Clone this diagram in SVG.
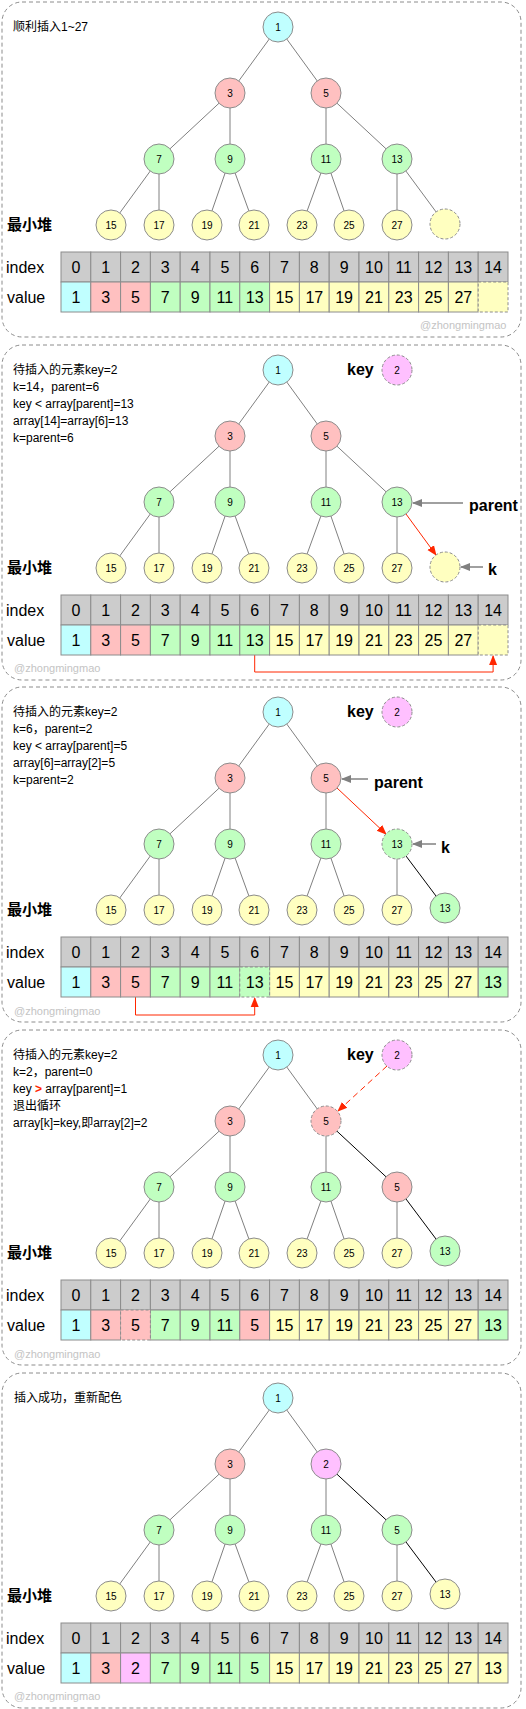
<svg xmlns="http://www.w3.org/2000/svg" width="526" height="1709" viewBox="0 0 526 1709">
<style>
text{font-family:"Liberation Sans","Noto Sans CJK SC",sans-serif;fill:#000}
.frame{fill:none;stroke:#8c8c8c;stroke-width:1;stroke-dasharray:4 3}
.n circle{stroke:#8c8c8c;stroke-width:1}
.n text{font-size:10px;text-anchor:middle}
.dash circle{stroke-dasharray:3 2}
.c{fill:#c0ffff}.r{fill:#ffc0c0}.g{fill:#c0ffc0}.y{fill:#ffffc0}.p{fill:#ffc0ff}.gr{fill:#cccccc}
.e{stroke:#808080;stroke-width:1;fill:none}
.eb{stroke:#000;stroke-width:1;fill:none}
.red{stroke:#ff2600;stroke-width:1;fill:none}
.gar{stroke:#808080;stroke-width:1.5;fill:none}
.cell rect{stroke:#8c8c8c;stroke-width:1}
.cell text{font-size:16px;text-anchor:middle}
.lbl{font-size:16px}
.note{font-size:12px}
.title{font-size:15px;font-weight:bold}
.bold{font-size:16px;font-weight:bold}
.wm{font-size:11px;fill:#c4c4c4}
</style>
<defs>
<marker id="ag" viewBox="0 0 10 10" refX="9" refY="5" markerWidth="10" markerHeight="10" markerUnits="userSpaceOnUse" orient="auto"><path d="M0,1 L10,5 L0,9 z" fill="#808080"/></marker>
<marker id="ar" viewBox="0 0 10 10" refX="9" refY="5" markerWidth="10" markerHeight="10" markerUnits="userSpaceOnUse" orient="auto"><path d="M0,1 L10,5 L0,9 z" fill="#ff2600"/></marker>
</defs>

<!-- ================= PANEL 1 ================= -->
<g id="panel1">
<rect class="frame" x="2" y="2" width="519" height="335" rx="20"/>
<text class="note" x="13" y="31">顺利插入1~27</text>
<text class="title" x="7" y="230">最小堆</text>
<g id="p1-connectors">
<line class="e" x1="278" y1="27" x2="230" y2="93"/><line class="e" x1="278" y1="27" x2="326" y2="93"/>
<line class="e" x1="230" y1="93" x2="159" y2="159"/><line class="e" x1="230" y1="93" x2="230" y2="159"/>
<line class="e" x1="326" y1="93" x2="326" y2="159"/><line class="e" x1="326" y1="93" x2="397" y2="159"/>
<line class="e" x1="159" y1="159" x2="111" y2="225"/><line class="e" x1="159" y1="159" x2="159" y2="225"/>
<line class="e" x1="230" y1="159" x2="207" y2="225"/><line class="e" x1="230" y1="159" x2="254" y2="225"/>
<line class="e" x1="326" y1="159" x2="302" y2="225"/><line class="e" x1="326" y1="159" x2="349" y2="225"/>
<line class="e" x1="397" y1="159" x2="397" y2="225"/><line class="e" x1="397" y1="159" x2="445" y2="224"/>
</g>
<g id="p1-n1" class="n"><circle class="c" cx="278" cy="27" r="15"/><text x="278" y="30.5">1</text></g>
<g id="p1-n3" class="n"><circle class="r" cx="230" cy="93" r="15"/><text x="230" y="96.5">3</text></g>
<g id="p1-n5" class="n"><circle class="r" cx="326" cy="93" r="15"/><text x="326" y="96.5">5</text></g>
<g id="p1-n7" class="n"><circle class="g" cx="159" cy="159" r="15"/><text x="159" y="162.5">7</text></g>
<g id="p1-n9" class="n"><circle class="g" cx="230" cy="159" r="15"/><text x="230" y="162.5">9</text></g>
<g id="p1-n11" class="n"><circle class="g" cx="326" cy="159" r="15"/><text x="326" y="162.5">11</text></g>
<g id="p1-n13" class="n"><circle class="g" cx="397" cy="159" r="15"/><text x="397" y="162.5">13</text></g>
<g id="p1-n15" class="n"><circle class="y" cx="111" cy="225" r="15"/><text x="111" y="228.5">15</text></g>
<g id="p1-n17" class="n"><circle class="y" cx="159" cy="225" r="15"/><text x="159" y="228.5">17</text></g>
<g id="p1-n19" class="n"><circle class="y" cx="207" cy="225" r="15"/><text x="207" y="228.5">19</text></g>
<g id="p1-n21" class="n"><circle class="y" cx="254" cy="225" r="15"/><text x="254" y="228.5">21</text></g>
<g id="p1-n23" class="n"><circle class="y" cx="302" cy="225" r="15"/><text x="302" y="228.5">23</text></g>
<g id="p1-n25" class="n"><circle class="y" cx="349" cy="225" r="15"/><text x="349" y="228.5">25</text></g>
<g id="p1-n27" class="n"><circle class="y" cx="397" cy="225" r="15"/><text x="397" y="228.5">27</text></g>
<g id="p1-nempty" class="n dash"><circle class="y" cx="445" cy="224" r="15"/></g>
<text class="lbl" x="6" y="273">index</text>
<text class="lbl" x="7" y="303">value</text>
<g id="p1-table" class="cell">
<rect class="gr" x="61" y="252" width="29.8" height="30"/><text x="75.9" y="273">0</text>
<rect class="gr" x="90.8" y="252" width="29.8" height="30"/><text x="105.7" y="273">1</text>
<rect class="gr" x="120.6" y="252" width="29.8" height="30"/><text x="135.5" y="273">2</text>
<rect class="gr" x="150.4" y="252" width="29.8" height="30"/><text x="165.3" y="273">3</text>
<rect class="gr" x="180.2" y="252" width="29.8" height="30"/><text x="195.1" y="273">4</text>
<rect class="gr" x="210" y="252" width="29.8" height="30"/><text x="224.9" y="273">5</text>
<rect class="gr" x="239.8" y="252" width="29.8" height="30"/><text x="254.7" y="273">6</text>
<rect class="gr" x="269.6" y="252" width="29.8" height="30"/><text x="284.5" y="273">7</text>
<rect class="gr" x="299.4" y="252" width="29.8" height="30"/><text x="314.3" y="273">8</text>
<rect class="gr" x="329.2" y="252" width="29.8" height="30"/><text x="344.1" y="273">9</text>
<rect class="gr" x="359" y="252" width="29.8" height="30"/><text x="373.9" y="273">10</text>
<rect class="gr" x="388.8" y="252" width="29.8" height="30"/><text x="403.7" y="273">11</text>
<rect class="gr" x="418.6" y="252" width="29.8" height="30"/><text x="433.5" y="273">12</text>
<rect class="gr" x="448.4" y="252" width="29.8" height="30"/><text x="463.3" y="273">13</text>
<rect class="gr" x="478.2" y="252" width="29.8" height="30"/><text x="493.1" y="273">14</text>
<rect class="c" x="61" y="282" width="29.8" height="30"/><text x="75.9" y="303">1</text>
<rect class="r" x="90.8" y="282" width="29.8" height="30"/><text x="105.7" y="303">3</text>
<rect class="r" x="120.6" y="282" width="29.8" height="30"/><text x="135.5" y="303">5</text>
<rect class="g" x="150.4" y="282" width="29.8" height="30"/><text x="165.3" y="303">7</text>
<rect class="g" x="180.2" y="282" width="29.8" height="30"/><text x="195.1" y="303">9</text>
<rect class="g" x="210" y="282" width="29.8" height="30"/><text x="224.9" y="303">11</text>
<rect class="g" x="239.8" y="282" width="29.8" height="30"/><text x="254.7" y="303">13</text>
<rect class="y" x="269.6" y="282" width="29.8" height="30"/><text x="284.5" y="303">15</text>
<rect class="y" x="299.4" y="282" width="29.8" height="30"/><text x="314.3" y="303">17</text>
<rect class="y" x="329.2" y="282" width="29.8" height="30"/><text x="344.1" y="303">19</text>
<rect class="y" x="359" y="282" width="29.8" height="30"/><text x="373.9" y="303">21</text>
<rect class="y" x="388.8" y="282" width="29.8" height="30"/><text x="403.7" y="303">23</text>
<rect class="y" x="418.6" y="282" width="29.8" height="30"/><text x="433.5" y="303">25</text>
<rect class="y" x="448.4" y="282" width="29.8" height="30"/><text x="463.3" y="303">27</text>
<rect class="y" x="478.2" y="282" width="29.8" height="30" style="stroke-dasharray:3 2"/>
</g>
<text class="wm" x="420" y="329">@zhongmingmao</text>
</g>

<!-- ================= PANEL 2 ================= -->
<g id="panel2" transform="translate(0,343)">
<rect class="frame" x="2" y="2" width="519" height="335" rx="20"/>
<text class="note" x="13" y="31">待插入的元素key=2</text>
<text class="note" x="13" y="48">k=14，parent=6</text>
<text class="note" x="13" y="65">key &lt; array[parent]=13</text>
<text class="note" x="13" y="82">array[14]=array[6]=13</text>
<text class="note" x="13" y="99">k=parent=6</text>
<text class="title" x="7" y="230">最小堆</text>
<text class="bold" x="347" y="32">key</text>
<text class="bold" x="469" y="168">parent</text>
<text class="bold" x="488" y="232">k</text>
<g id="p2-connectors">
<line class="e" x1="278" y1="27" x2="230" y2="93"/><line class="e" x1="278" y1="27" x2="326" y2="93"/>
<line class="e" x1="230" y1="93" x2="159" y2="159"/><line class="e" x1="230" y1="93" x2="230" y2="159"/>
<line class="e" x1="326" y1="93" x2="326" y2="159"/><line class="e" x1="326" y1="93" x2="397" y2="159"/>
<line class="e" x1="159" y1="159" x2="111" y2="225"/><line class="e" x1="159" y1="159" x2="159" y2="225"/>
<line class="e" x1="230" y1="159" x2="207" y2="225"/><line class="e" x1="230" y1="159" x2="254" y2="225"/>
<line class="e" x1="326" y1="159" x2="302" y2="225"/><line class="e" x1="326" y1="159" x2="349" y2="225"/>
<line class="e" x1="397" y1="159" x2="397" y2="225"/>
<line class="red" x1="406" y1="171" x2="436" y2="212" marker-end="url(#ar)"/>
<line class="gar" x1="463" y1="160" x2="413" y2="160" marker-end="url(#ag)"/>
<line class="gar" x1="483" y1="224" x2="461" y2="224" marker-end="url(#ag)"/>
<polyline class="red" points="254.7,312 254.7,329 493.1,329 493.1,313" marker-end="url(#ar)"/>
</g>
<g id="p2-key" class="n dash"><circle class="p" cx="397" cy="27" r="15"/><text x="397" y="30.5">2</text></g>
<g id="p2-n1" class="n"><circle class="c" cx="278" cy="27" r="15"/><text x="278" y="30.5">1</text></g>
<g id="p2-n3" class="n"><circle class="r" cx="230" cy="93" r="15"/><text x="230" y="96.5">3</text></g>
<g id="p2-n5" class="n"><circle class="r" cx="326" cy="93" r="15"/><text x="326" y="96.5">5</text></g>
<g id="p2-n7" class="n"><circle class="g" cx="159" cy="159" r="15"/><text x="159" y="162.5">7</text></g>
<g id="p2-n9" class="n"><circle class="g" cx="230" cy="159" r="15"/><text x="230" y="162.5">9</text></g>
<g id="p2-n11" class="n"><circle class="g" cx="326" cy="159" r="15"/><text x="326" y="162.5">11</text></g>
<g id="p2-n13" class="n"><circle class="g" cx="397" cy="159" r="15"/><text x="397" y="162.5">13</text></g>
<g id="p2-n15" class="n"><circle class="y" cx="111" cy="225" r="15"/><text x="111" y="228.5">15</text></g>
<g id="p2-n17" class="n"><circle class="y" cx="159" cy="225" r="15"/><text x="159" y="228.5">17</text></g>
<g id="p2-n19" class="n"><circle class="y" cx="207" cy="225" r="15"/><text x="207" y="228.5">19</text></g>
<g id="p2-n21" class="n"><circle class="y" cx="254" cy="225" r="15"/><text x="254" y="228.5">21</text></g>
<g id="p2-n23" class="n"><circle class="y" cx="302" cy="225" r="15"/><text x="302" y="228.5">23</text></g>
<g id="p2-n25" class="n"><circle class="y" cx="349" cy="225" r="15"/><text x="349" y="228.5">25</text></g>
<g id="p2-n27" class="n"><circle class="y" cx="397" cy="225" r="15"/><text x="397" y="228.5">27</text></g>
<g id="p2-nempty" class="n dash"><circle class="y" cx="445" cy="224" r="15"/></g>
<text class="lbl" x="6" y="273">index</text>
<text class="lbl" x="7" y="303">value</text>
<g id="p2-table" class="cell">
<rect class="gr" x="61" y="252" width="29.8" height="30"/><text x="75.9" y="273">0</text>
<rect class="gr" x="90.8" y="252" width="29.8" height="30"/><text x="105.7" y="273">1</text>
<rect class="gr" x="120.6" y="252" width="29.8" height="30"/><text x="135.5" y="273">2</text>
<rect class="gr" x="150.4" y="252" width="29.8" height="30"/><text x="165.3" y="273">3</text>
<rect class="gr" x="180.2" y="252" width="29.8" height="30"/><text x="195.1" y="273">4</text>
<rect class="gr" x="210" y="252" width="29.8" height="30"/><text x="224.9" y="273">5</text>
<rect class="gr" x="239.8" y="252" width="29.8" height="30"/><text x="254.7" y="273">6</text>
<rect class="gr" x="269.6" y="252" width="29.8" height="30"/><text x="284.5" y="273">7</text>
<rect class="gr" x="299.4" y="252" width="29.8" height="30"/><text x="314.3" y="273">8</text>
<rect class="gr" x="329.2" y="252" width="29.8" height="30"/><text x="344.1" y="273">9</text>
<rect class="gr" x="359" y="252" width="29.8" height="30"/><text x="373.9" y="273">10</text>
<rect class="gr" x="388.8" y="252" width="29.8" height="30"/><text x="403.7" y="273">11</text>
<rect class="gr" x="418.6" y="252" width="29.8" height="30"/><text x="433.5" y="273">12</text>
<rect class="gr" x="448.4" y="252" width="29.8" height="30"/><text x="463.3" y="273">13</text>
<rect class="gr" x="478.2" y="252" width="29.8" height="30"/><text x="493.1" y="273">14</text>
<rect class="c" x="61" y="282" width="29.8" height="30"/><text x="75.9" y="303">1</text>
<rect class="r" x="90.8" y="282" width="29.8" height="30"/><text x="105.7" y="303">3</text>
<rect class="r" x="120.6" y="282" width="29.8" height="30"/><text x="135.5" y="303">5</text>
<rect class="g" x="150.4" y="282" width="29.8" height="30"/><text x="165.3" y="303">7</text>
<rect class="g" x="180.2" y="282" width="29.8" height="30"/><text x="195.1" y="303">9</text>
<rect class="g" x="210" y="282" width="29.8" height="30"/><text x="224.9" y="303">11</text>
<rect class="g" x="239.8" y="282" width="29.8" height="30"/><text x="254.7" y="303">13</text>
<rect class="y" x="269.6" y="282" width="29.8" height="30"/><text x="284.5" y="303">15</text>
<rect class="y" x="299.4" y="282" width="29.8" height="30"/><text x="314.3" y="303">17</text>
<rect class="y" x="329.2" y="282" width="29.8" height="30"/><text x="344.1" y="303">19</text>
<rect class="y" x="359" y="282" width="29.8" height="30"/><text x="373.9" y="303">21</text>
<rect class="y" x="388.8" y="282" width="29.8" height="30"/><text x="403.7" y="303">23</text>
<rect class="y" x="418.6" y="282" width="29.8" height="30"/><text x="433.5" y="303">25</text>
<rect class="y" x="448.4" y="282" width="29.8" height="30"/><text x="463.3" y="303">27</text>
<rect class="y" x="478.2" y="282" width="29.8" height="30" style="stroke-dasharray:3 2"/>
</g>
<text class="wm" x="14" y="329">@zhongmingmao</text>
</g>

<!-- ================= PANEL 3 ================= -->
<g id="panel3" transform="translate(0,685)">
<rect class="frame" x="2" y="2" width="519" height="335" rx="20"/>
<text class="note" x="13" y="31">待插入的元素key=2</text>
<text class="note" x="13" y="48">k=6，parent=2</text>
<text class="note" x="13" y="65">key &lt; array[parent]=5</text>
<text class="note" x="13" y="82">array[6]=array[2]=5</text>
<text class="note" x="13" y="99">k=parent=2</text>
<text class="title" x="7" y="230">最小堆</text>
<text class="bold" x="347" y="32">key</text>
<text class="bold" x="374" y="103">parent</text>
<text class="bold" x="441" y="168">k</text>
<g id="p3-connectors">
<line class="e" x1="278" y1="27" x2="230" y2="93"/><line class="e" x1="278" y1="27" x2="326" y2="93"/>
<line class="e" x1="230" y1="93" x2="159" y2="159"/><line class="e" x1="230" y1="93" x2="230" y2="159"/>
<line class="e" x1="326" y1="93" x2="326" y2="159"/>
<line class="e" x1="159" y1="159" x2="111" y2="225"/><line class="e" x1="159" y1="159" x2="159" y2="225"/>
<line class="e" x1="230" y1="159" x2="207" y2="225"/><line class="e" x1="230" y1="159" x2="254" y2="225"/>
<line class="e" x1="326" y1="159" x2="302" y2="225"/><line class="e" x1="326" y1="159" x2="349" y2="225"/>
<line class="e" x1="397" y1="159" x2="397" y2="225"/>
<line class="eb" x1="397" y1="159" x2="445" y2="223"/>
<line class="red" x1="337" y1="103" x2="386" y2="149" marker-end="url(#ar)"/>
<line class="gar" x1="368" y1="94" x2="342" y2="94" marker-end="url(#ag)"/>
<line class="gar" x1="436" y1="159" x2="413" y2="159" marker-end="url(#ag)"/>
<polyline class="red" points="135.5,312 135.5,330 254.7,330 254.7,313" marker-end="url(#ar)"/>
</g>
<g id="p3-key" class="n dash"><circle class="p" cx="397" cy="27" r="15"/><text x="397" y="30.5">2</text></g>
<g id="p3-n1" class="n"><circle class="c" cx="278" cy="27" r="15"/><text x="278" y="30.5">1</text></g>
<g id="p3-n3" class="n"><circle class="r" cx="230" cy="93" r="15"/><text x="230" y="96.5">3</text></g>
<g id="p3-n5" class="n"><circle class="r" cx="326" cy="93" r="15"/><text x="326" y="96.5">5</text></g>
<g id="p3-n7" class="n"><circle class="g" cx="159" cy="159" r="15"/><text x="159" y="162.5">7</text></g>
<g id="p3-n9" class="n"><circle class="g" cx="230" cy="159" r="15"/><text x="230" y="162.5">9</text></g>
<g id="p3-n11" class="n"><circle class="g" cx="326" cy="159" r="15"/><text x="326" y="162.5">11</text></g>
<g id="p3-n13k" class="n dash"><circle class="g" cx="397" cy="159" r="15"/><text x="397" y="162.5">13</text></g>
<g id="p3-n15" class="n"><circle class="y" cx="111" cy="225" r="15"/><text x="111" y="228.5">15</text></g>
<g id="p3-n17" class="n"><circle class="y" cx="159" cy="225" r="15"/><text x="159" y="228.5">17</text></g>
<g id="p3-n19" class="n"><circle class="y" cx="207" cy="225" r="15"/><text x="207" y="228.5">19</text></g>
<g id="p3-n21" class="n"><circle class="y" cx="254" cy="225" r="15"/><text x="254" y="228.5">21</text></g>
<g id="p3-n23" class="n"><circle class="y" cx="302" cy="225" r="15"/><text x="302" y="228.5">23</text></g>
<g id="p3-n25" class="n"><circle class="y" cx="349" cy="225" r="15"/><text x="349" y="228.5">25</text></g>
<g id="p3-n27" class="n"><circle class="y" cx="397" cy="225" r="15"/><text x="397" y="228.5">27</text></g>
<g id="p3-n13" class="n"><circle class="g" cx="445" cy="223" r="15"/><text x="445" y="226.5">13</text></g>
<text class="lbl" x="6" y="273">index</text>
<text class="lbl" x="7" y="303">value</text>
<g id="p3-table" class="cell">
<rect class="gr" x="61" y="252" width="29.8" height="30"/><text x="75.9" y="273">0</text>
<rect class="gr" x="90.8" y="252" width="29.8" height="30"/><text x="105.7" y="273">1</text>
<rect class="gr" x="120.6" y="252" width="29.8" height="30"/><text x="135.5" y="273">2</text>
<rect class="gr" x="150.4" y="252" width="29.8" height="30"/><text x="165.3" y="273">3</text>
<rect class="gr" x="180.2" y="252" width="29.8" height="30"/><text x="195.1" y="273">4</text>
<rect class="gr" x="210" y="252" width="29.8" height="30"/><text x="224.9" y="273">5</text>
<rect class="gr" x="239.8" y="252" width="29.8" height="30"/><text x="254.7" y="273">6</text>
<rect class="gr" x="269.6" y="252" width="29.8" height="30"/><text x="284.5" y="273">7</text>
<rect class="gr" x="299.4" y="252" width="29.8" height="30"/><text x="314.3" y="273">8</text>
<rect class="gr" x="329.2" y="252" width="29.8" height="30"/><text x="344.1" y="273">9</text>
<rect class="gr" x="359" y="252" width="29.8" height="30"/><text x="373.9" y="273">10</text>
<rect class="gr" x="388.8" y="252" width="29.8" height="30"/><text x="403.7" y="273">11</text>
<rect class="gr" x="418.6" y="252" width="29.8" height="30"/><text x="433.5" y="273">12</text>
<rect class="gr" x="448.4" y="252" width="29.8" height="30"/><text x="463.3" y="273">13</text>
<rect class="gr" x="478.2" y="252" width="29.8" height="30"/><text x="493.1" y="273">14</text>
<rect class="c" x="61" y="282" width="29.8" height="30"/><text x="75.9" y="303">1</text>
<rect class="r" x="90.8" y="282" width="29.8" height="30"/><text x="105.7" y="303">3</text>
<rect class="r" x="120.6" y="282" width="29.8" height="30"/><text x="135.5" y="303">5</text>
<rect class="g" x="150.4" y="282" width="29.8" height="30"/><text x="165.3" y="303">7</text>
<rect class="g" x="180.2" y="282" width="29.8" height="30"/><text x="195.1" y="303">9</text>
<rect class="g" x="210" y="282" width="29.8" height="30"/><text x="224.9" y="303">11</text>
<rect class="y" x="269.6" y="282" width="29.8" height="30"/><text x="284.5" y="303">15</text>
<rect class="y" x="299.4" y="282" width="29.8" height="30"/><text x="314.3" y="303">17</text>
<rect class="y" x="329.2" y="282" width="29.8" height="30"/><text x="344.1" y="303">19</text>
<rect class="y" x="359" y="282" width="29.8" height="30"/><text x="373.9" y="303">21</text>
<rect class="y" x="388.8" y="282" width="29.8" height="30"/><text x="403.7" y="303">23</text>
<rect class="y" x="418.6" y="282" width="29.8" height="30"/><text x="433.5" y="303">25</text>
<rect class="y" x="448.4" y="282" width="29.8" height="30"/><text x="463.3" y="303">27</text>
<rect class="g" x="478.2" y="282" width="29.8" height="30"/><text x="493.1" y="303">13</text>
<rect class="g" x="239.8" y="282" width="29.8" height="30" style="stroke-dasharray:3 2"/><text x="254.7" y="303">13</text>
</g>
<text class="wm" x="14" y="330">@zhongmingmao</text>
</g>

<!-- ================= PANEL 4 ================= -->
<g id="panel4" transform="translate(0,1028)">
<rect class="frame" x="2" y="2" width="519" height="335" rx="20"/>
<text class="note" x="13" y="31">待插入的元素key=2</text>
<text class="note" x="13" y="48">k=2，parent=0</text>
<text class="note" x="13" y="65">key <tspan fill="#ff2600" font-weight="bold">&gt;</tspan> array[parent]=1</text>
<text class="note" x="13" y="82">退出循环</text>
<text class="note" x="13" y="99">array[k]=key,即array[2]=2</text>
<text class="title" x="7" y="230">最小堆</text>
<text class="bold" x="347" y="32">key</text>
<g id="p4-connectors">
<line class="e" x1="278" y1="27" x2="230" y2="93"/><line class="e" x1="278" y1="27" x2="326" y2="93"/>
<line class="e" x1="230" y1="93" x2="159" y2="159"/><line class="e" x1="230" y1="93" x2="230" y2="159"/>
<line class="e" x1="326" y1="93" x2="326" y2="159"/>
<line class="eb" x1="326" y1="93" x2="397" y2="159"/>
<line class="e" x1="159" y1="159" x2="111" y2="225"/><line class="e" x1="159" y1="159" x2="159" y2="225"/>
<line class="e" x1="230" y1="159" x2="207" y2="225"/><line class="e" x1="230" y1="159" x2="254" y2="225"/>
<line class="e" x1="326" y1="159" x2="302" y2="225"/><line class="e" x1="326" y1="159" x2="349" y2="225"/>
<line class="e" x1="397" y1="159" x2="397" y2="225"/>
<line class="eb" x1="397" y1="159" x2="445" y2="223"/>
<line class="red" x1="387" y1="38" x2="338" y2="83" stroke-dasharray="6 4" marker-end="url(#ar)"/>
</g>
<g id="p4-key" class="n dash"><circle class="p" cx="397" cy="27" r="15"/><text x="397" y="30.5">2</text></g>
<g id="p4-n1" class="n"><circle class="c" cx="278" cy="27" r="15"/><text x="278" y="30.5">1</text></g>
<g id="p4-n3" class="n"><circle class="r" cx="230" cy="93" r="15"/><text x="230" y="96.5">3</text></g>
<g id="p4-n5k" class="n dash"><circle class="r" cx="326" cy="93" r="15"/><text x="326" y="96.5">5</text></g>
<g id="p4-n7" class="n"><circle class="g" cx="159" cy="159" r="15"/><text x="159" y="162.5">7</text></g>
<g id="p4-n9" class="n"><circle class="g" cx="230" cy="159" r="15"/><text x="230" y="162.5">9</text></g>
<g id="p4-n11" class="n"><circle class="g" cx="326" cy="159" r="15"/><text x="326" y="162.5">11</text></g>
<g id="p4-n5" class="n"><circle class="r" cx="397" cy="159" r="15"/><text x="397" y="162.5">5</text></g>
<g id="p4-n15" class="n"><circle class="y" cx="111" cy="225" r="15"/><text x="111" y="228.5">15</text></g>
<g id="p4-n17" class="n"><circle class="y" cx="159" cy="225" r="15"/><text x="159" y="228.5">17</text></g>
<g id="p4-n19" class="n"><circle class="y" cx="207" cy="225" r="15"/><text x="207" y="228.5">19</text></g>
<g id="p4-n21" class="n"><circle class="y" cx="254" cy="225" r="15"/><text x="254" y="228.5">21</text></g>
<g id="p4-n23" class="n"><circle class="y" cx="302" cy="225" r="15"/><text x="302" y="228.5">23</text></g>
<g id="p4-n25" class="n"><circle class="y" cx="349" cy="225" r="15"/><text x="349" y="228.5">25</text></g>
<g id="p4-n27" class="n"><circle class="y" cx="397" cy="225" r="15"/><text x="397" y="228.5">27</text></g>
<g id="p4-n13" class="n"><circle class="g" cx="445" cy="223" r="15"/><text x="445" y="226.5">13</text></g>
<text class="lbl" x="6" y="273">index</text>
<text class="lbl" x="7" y="303">value</text>
<g id="p4-table" class="cell">
<rect class="gr" x="61" y="252" width="29.8" height="30"/><text x="75.9" y="273">0</text>
<rect class="gr" x="90.8" y="252" width="29.8" height="30"/><text x="105.7" y="273">1</text>
<rect class="gr" x="120.6" y="252" width="29.8" height="30"/><text x="135.5" y="273">2</text>
<rect class="gr" x="150.4" y="252" width="29.8" height="30"/><text x="165.3" y="273">3</text>
<rect class="gr" x="180.2" y="252" width="29.8" height="30"/><text x="195.1" y="273">4</text>
<rect class="gr" x="210" y="252" width="29.8" height="30"/><text x="224.9" y="273">5</text>
<rect class="gr" x="239.8" y="252" width="29.8" height="30"/><text x="254.7" y="273">6</text>
<rect class="gr" x="269.6" y="252" width="29.8" height="30"/><text x="284.5" y="273">7</text>
<rect class="gr" x="299.4" y="252" width="29.8" height="30"/><text x="314.3" y="273">8</text>
<rect class="gr" x="329.2" y="252" width="29.8" height="30"/><text x="344.1" y="273">9</text>
<rect class="gr" x="359" y="252" width="29.8" height="30"/><text x="373.9" y="273">10</text>
<rect class="gr" x="388.8" y="252" width="29.8" height="30"/><text x="403.7" y="273">11</text>
<rect class="gr" x="418.6" y="252" width="29.8" height="30"/><text x="433.5" y="273">12</text>
<rect class="gr" x="448.4" y="252" width="29.8" height="30"/><text x="463.3" y="273">13</text>
<rect class="gr" x="478.2" y="252" width="29.8" height="30"/><text x="493.1" y="273">14</text>
<rect class="c" x="61" y="282" width="29.8" height="30"/><text x="75.9" y="303">1</text>
<rect class="r" x="90.8" y="282" width="29.8" height="30"/><text x="105.7" y="303">3</text>
<rect class="g" x="150.4" y="282" width="29.8" height="30"/><text x="165.3" y="303">7</text>
<rect class="g" x="180.2" y="282" width="29.8" height="30"/><text x="195.1" y="303">9</text>
<rect class="g" x="210" y="282" width="29.8" height="30"/><text x="224.9" y="303">11</text>
<rect class="r" x="239.8" y="282" width="29.8" height="30"/><text x="254.7" y="303">5</text>
<rect class="y" x="269.6" y="282" width="29.8" height="30"/><text x="284.5" y="303">15</text>
<rect class="y" x="299.4" y="282" width="29.8" height="30"/><text x="314.3" y="303">17</text>
<rect class="y" x="329.2" y="282" width="29.8" height="30"/><text x="344.1" y="303">19</text>
<rect class="y" x="359" y="282" width="29.8" height="30"/><text x="373.9" y="303">21</text>
<rect class="y" x="388.8" y="282" width="29.8" height="30"/><text x="403.7" y="303">23</text>
<rect class="y" x="418.6" y="282" width="29.8" height="30"/><text x="433.5" y="303">25</text>
<rect class="y" x="448.4" y="282" width="29.8" height="30"/><text x="463.3" y="303">27</text>
<rect class="g" x="478.2" y="282" width="29.8" height="30"/><text x="493.1" y="303">13</text>
<rect class="r" x="120.6" y="282" width="29.8" height="30" style="stroke-dasharray:3 2"/><text x="135.5" y="303">5</text>
</g>
<text class="wm" x="14" y="330">@zhongmingmao</text>
</g>

<!-- ================= PANEL 5 ================= -->
<g id="panel5" transform="translate(0,1371)">
<rect class="frame" x="2" y="2" width="519" height="335" rx="20"/>
<text class="note" x="14" y="31">插入成功，重新配色</text>
<text class="title" x="7" y="230">最小堆</text>
<g id="p5-connectors">
<line class="e" x1="278" y1="27" x2="230" y2="93"/><line class="e" x1="278" y1="27" x2="326" y2="93"/>
<line class="e" x1="230" y1="93" x2="159" y2="159"/><line class="e" x1="230" y1="93" x2="230" y2="159"/>
<line class="e" x1="326" y1="93" x2="326" y2="159"/>
<line class="eb" x1="326" y1="93" x2="397" y2="159"/>
<line class="e" x1="159" y1="159" x2="111" y2="225"/><line class="e" x1="159" y1="159" x2="159" y2="225"/>
<line class="e" x1="230" y1="159" x2="207" y2="225"/><line class="e" x1="230" y1="159" x2="254" y2="225"/>
<line class="e" x1="326" y1="159" x2="302" y2="225"/><line class="e" x1="326" y1="159" x2="349" y2="225"/>
<line class="e" x1="397" y1="159" x2="397" y2="225"/>
<line class="eb" x1="397" y1="159" x2="445" y2="223"/>
</g>
<g id="p5-n1" class="n"><circle class="c" cx="278" cy="27" r="15"/><text x="278" y="30.5">1</text></g>
<g id="p5-n3" class="n"><circle class="r" cx="230" cy="93" r="15"/><text x="230" y="96.5">3</text></g>
<g id="p5-n2" class="n"><circle class="p" cx="326" cy="93" r="15"/><text x="326" y="96.5">2</text></g>
<g id="p5-n7" class="n"><circle class="g" cx="159" cy="159" r="15"/><text x="159" y="162.5">7</text></g>
<g id="p5-n9" class="n"><circle class="g" cx="230" cy="159" r="15"/><text x="230" y="162.5">9</text></g>
<g id="p5-n11" class="n"><circle class="g" cx="326" cy="159" r="15"/><text x="326" y="162.5">11</text></g>
<g id="p5-n5" class="n"><circle class="g" cx="397" cy="159" r="15"/><text x="397" y="162.5">5</text></g>
<g id="p5-n15" class="n"><circle class="y" cx="111" cy="225" r="15"/><text x="111" y="228.5">15</text></g>
<g id="p5-n17" class="n"><circle class="y" cx="159" cy="225" r="15"/><text x="159" y="228.5">17</text></g>
<g id="p5-n19" class="n"><circle class="y" cx="207" cy="225" r="15"/><text x="207" y="228.5">19</text></g>
<g id="p5-n21" class="n"><circle class="y" cx="254" cy="225" r="15"/><text x="254" y="228.5">21</text></g>
<g id="p5-n23" class="n"><circle class="y" cx="302" cy="225" r="15"/><text x="302" y="228.5">23</text></g>
<g id="p5-n25" class="n"><circle class="y" cx="349" cy="225" r="15"/><text x="349" y="228.5">25</text></g>
<g id="p5-n27" class="n"><circle class="y" cx="397" cy="225" r="15"/><text x="397" y="228.5">27</text></g>
<g id="p5-n13" class="n"><circle class="y" cx="445" cy="223" r="15"/><text x="445" y="226.5">13</text></g>
<text class="lbl" x="6" y="273">index</text>
<text class="lbl" x="7" y="303">value</text>
<g id="p5-table" class="cell">
<rect class="gr" x="61" y="252" width="29.8" height="30"/><text x="75.9" y="273">0</text>
<rect class="gr" x="90.8" y="252" width="29.8" height="30"/><text x="105.7" y="273">1</text>
<rect class="gr" x="120.6" y="252" width="29.8" height="30"/><text x="135.5" y="273">2</text>
<rect class="gr" x="150.4" y="252" width="29.8" height="30"/><text x="165.3" y="273">3</text>
<rect class="gr" x="180.2" y="252" width="29.8" height="30"/><text x="195.1" y="273">4</text>
<rect class="gr" x="210" y="252" width="29.8" height="30"/><text x="224.9" y="273">5</text>
<rect class="gr" x="239.8" y="252" width="29.8" height="30"/><text x="254.7" y="273">6</text>
<rect class="gr" x="269.6" y="252" width="29.8" height="30"/><text x="284.5" y="273">7</text>
<rect class="gr" x="299.4" y="252" width="29.8" height="30"/><text x="314.3" y="273">8</text>
<rect class="gr" x="329.2" y="252" width="29.8" height="30"/><text x="344.1" y="273">9</text>
<rect class="gr" x="359" y="252" width="29.8" height="30"/><text x="373.9" y="273">10</text>
<rect class="gr" x="388.8" y="252" width="29.8" height="30"/><text x="403.7" y="273">11</text>
<rect class="gr" x="418.6" y="252" width="29.8" height="30"/><text x="433.5" y="273">12</text>
<rect class="gr" x="448.4" y="252" width="29.8" height="30"/><text x="463.3" y="273">13</text>
<rect class="gr" x="478.2" y="252" width="29.8" height="30"/><text x="493.1" y="273">14</text>
<rect class="c" x="61" y="282" width="29.8" height="30"/><text x="75.9" y="303">1</text>
<rect class="r" x="90.8" y="282" width="29.8" height="30"/><text x="105.7" y="303">3</text>
<rect class="p" x="120.6" y="282" width="29.8" height="30"/><text x="135.5" y="303">2</text>
<rect class="g" x="150.4" y="282" width="29.8" height="30"/><text x="165.3" y="303">7</text>
<rect class="g" x="180.2" y="282" width="29.8" height="30"/><text x="195.1" y="303">9</text>
<rect class="g" x="210" y="282" width="29.8" height="30"/><text x="224.9" y="303">11</text>
<rect class="g" x="239.8" y="282" width="29.8" height="30"/><text x="254.7" y="303">5</text>
<rect class="y" x="269.6" y="282" width="29.8" height="30"/><text x="284.5" y="303">15</text>
<rect class="y" x="299.4" y="282" width="29.8" height="30"/><text x="314.3" y="303">17</text>
<rect class="y" x="329.2" y="282" width="29.8" height="30"/><text x="344.1" y="303">19</text>
<rect class="y" x="359" y="282" width="29.8" height="30"/><text x="373.9" y="303">21</text>
<rect class="y" x="388.8" y="282" width="29.8" height="30"/><text x="403.7" y="303">23</text>
<rect class="y" x="418.6" y="282" width="29.8" height="30"/><text x="433.5" y="303">25</text>
<rect class="y" x="448.4" y="282" width="29.8" height="30"/><text x="463.3" y="303">27</text>
<rect class="y" x="478.2" y="282" width="29.8" height="30"/><text x="493.1" y="303">13</text>
</g>
<text class="wm" x="14" y="329">@zhongmingmao</text>
</g>
</svg>
